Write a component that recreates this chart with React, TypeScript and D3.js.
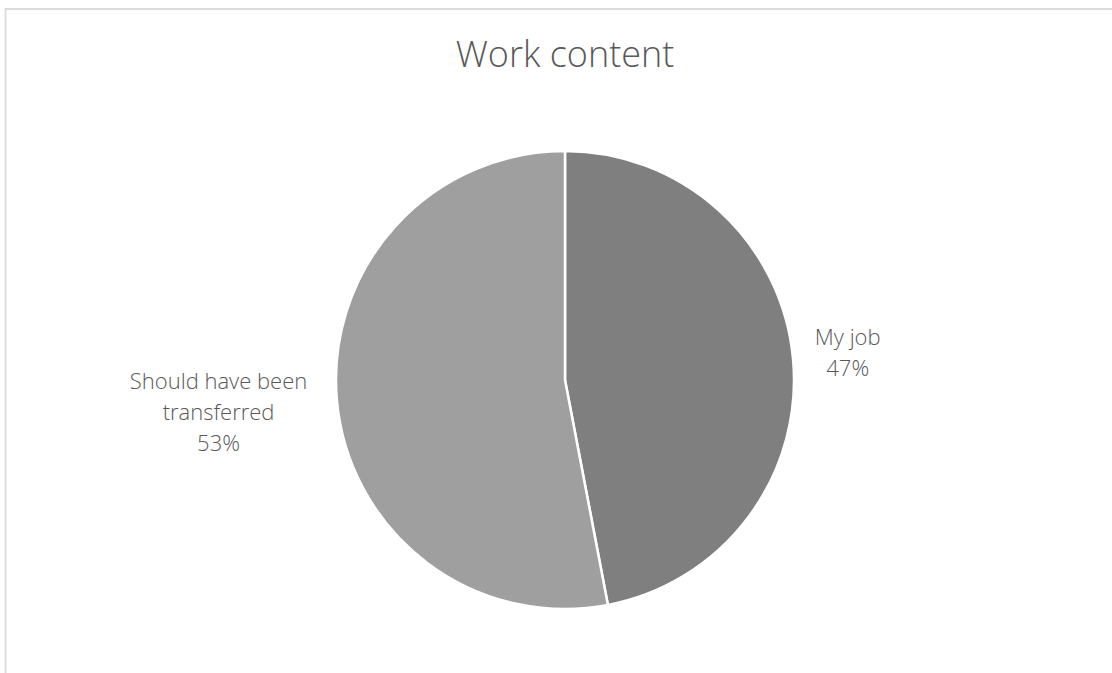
import React from "react";
import * as d3 from "d3";

const categories = ["My job", "Should have been transferred"];
const values = [47, 53];
const labelLines = [["My job"], ["Should have been", "transferred"]];
const colors = ["#7f7f7f", "#9f9f9f"];

const W = 1112;
const H = 673;
const cx = 565;
const cy = 380;
const R = 229;
const labelRadius = [284, 348];
const lineH = 31;

export default function App() {
  const pie = d3.pie<number>().sort(null).value((d) => d)(values);
  const arc = d3.arc<d3.PieArcDatum<number>>().innerRadius(0).outerRadius(R);
  const total = d3.sum(values);
  return (
    <svg width={W} height={H} style={{ position: "absolute", left: 0, top: 0, background: "#fff" }}>
      <rect x={5.5} y={9} width={W + 10} height={H + 10} fill="#fff" stroke="#d9d9d9" strokeWidth={1.8} />
      <text x={cx} y={67} textAnchor="middle" fontFamily="'Open Sans', 'Noto Sans', sans-serif" fontWeight={300} fontSize={36} fill="#595959">
        Work content
      </text>
      <g transform={`translate(${cx},${cy})`}>
        {pie.map((p, i) => (
          <path key={categories[i]} d={arc(p) || ""} fill={colors[i]} stroke="#fff" strokeWidth={2.5} strokeLinejoin="round" />
        ))}
        {pie.map((p, i) => {
          const a = (p.startAngle + p.endAngle) / 2;
          const lx = labelRadius[i] * Math.sin(a);
          const ly = -labelRadius[i] * Math.cos(a);
          const lines = [...labelLines[i], `${Math.round((values[i] / total) * 100)}%`];
          const y0 = ly - ((lines.length - 1) * lineH) / 2;
          return (
            <text key={"l" + i} textAnchor="middle" fontFamily="'Open Sans', 'Noto Sans', sans-serif" fontWeight={300} fontSize={22} fill="#595959">
              {lines.map((t, j) => (
                <tspan key={j} x={lx} y={y0 + j * lineH} dy="0.35em">{t}</tspan>
              ))}
            </text>
          );
        })}
      </g>
    </svg>
  );
}
